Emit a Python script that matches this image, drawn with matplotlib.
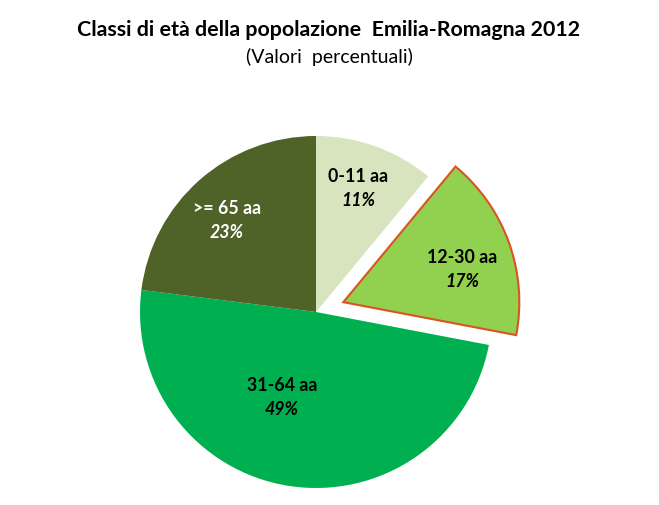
import matplotlib
matplotlib.use("Agg")
import matplotlib.pyplot as plt
import numpy as np

categories = ["0-11 aa", "12-30 aa", "31-64 aa", ">= 65 aa"]
values = [11, 17, 49, 23]
pct_labels = ["11%", "17%", "49%", "23%"]
colors = ["#D7E4BD", "#92D050", "#00B050", "#4F6228"]
text_colors = ["black", "black", "black", "white"]
explode_frac = [0, 0.165, 0, 0]
label_dist = [0.75, 0.70, 0.52, 0.73]
label_dang = [1.0, -4.0, -13.0, 2.5]

W, H = 659, 506
fig = plt.figure(figsize=(W / 100, H / 100), dpi=100)
ax = fig.add_axes([0, 0, 1, 1])

cx, cy, R = 316, H - 313, 176
wedges, _ = ax.pie(values, colors=colors, startangle=90, counterclock=False,
                   explode=[e * R for e in explode_frac], radius=R,
                   center=(cx, cy), frame=True,
                   wedgeprops=dict(linewidth=0))
wedges[1].set_edgecolor("#D9541E")
wedges[1].set_linewidth(1.5)
ax.set_xlim(0, W)
ax.set_ylim(0, H)
ax.set_aspect("equal")
ax.axis("off")

font = "Lato"
for w, cat, pct, tc, d, da in zip(wedges, categories, pct_labels, text_colors, label_dist, label_dang):
    ang = np.deg2rad((w.theta1 + w.theta2) / 2 + da)
    x0, y0 = w.center
    x = x0 + d * w.r * np.cos(ang)
    y = y0 + d * w.r * np.sin(ang)
    ax.text(x, y + 12, cat, ha="center", va="center", fontsize=12.8,
            fontweight="bold", color=tc, family=font)
    ax.text(x, y - 12, pct, ha="center", va="center", fontsize=12.8,
            fontweight="bold", style="italic", color=tc, family=font)

fig.text(329 / W, 1 - 30 / H, "Classi di età della popolazione  Emilia-Romagna 2012",
         ha="center", va="center", fontsize=15.4, fontweight="bold", family=font)
fig.text(329 / W, 1 - 57 / H, "(Valori  percentuali)",
         ha="center", va="center", fontsize=14, family=font)

fig.savefig("out.png", dpi=100)
